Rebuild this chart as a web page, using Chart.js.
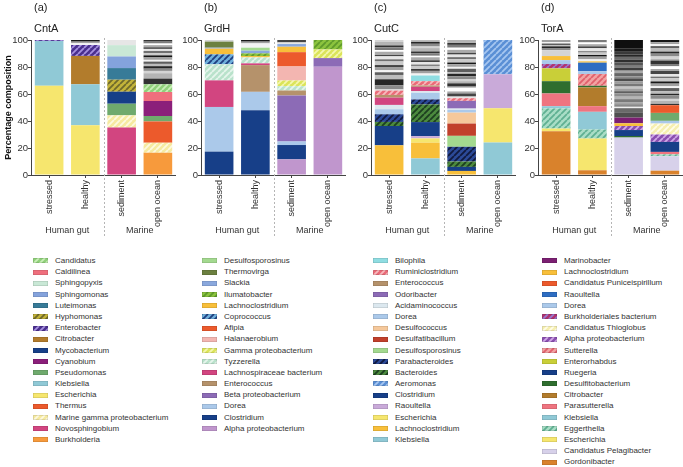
<!DOCTYPE html>
<html>
<head>
<meta charset="utf-8">
<script src="https://cdn.jsdelivr.net/npm/chart.js@4.4.1/dist/chart.umd.min.js"></script>
<style>
body{margin:0;width:683px;height:467px;background:#fff;position:relative;overflow:hidden;font-family:"Liberation Sans",Arial,sans-serif;}
canvas{position:absolute;top:0;}
.legend{position:absolute;top:255px;font-size:8px;color:#333;}
.legend div{height:11.2px;line-height:11.2px;white-space:nowrap;}
.sw{display:inline-block;width:15px;height:5px;margin-right:7px;vertical-align:middle;box-shadow:inset 0 0 0 0.5px rgba(0,0,0,0.18);background-size:6px 6px;}
</style>
</head>
<body>
<canvas id="cA" width="176" height="240" style="left:0px"></canvas>
<canvas id="cB" width="176" height="240" style="left:170px"></canvas>
<canvas id="cC" width="176" height="240" style="left:340px"></canvas>
<canvas id="cD" width="176" height="240" style="left:507px"></canvas>
<div class="legend" id="lA" style="left:33px"></div>
<div class="legend" id="lB" style="left:202px"></div>
<div class="legend" id="lC" style="left:373px"></div>
<div class="legend" id="lD" style="left:542px"></div>
<script>
// ===== DATA =====
const bars = ['stressed', 'healthy', 'sediment', 'open ocean'];
const groups = ['Human gut', 'Marine'];
const yTicks = [0, 20, 40, 60, 80, 100];

// (a) CntA - legend order, top to bottom
const cntaNames = ['Candidatus', 'Caldilinea', 'Sphingopyxis', 'Sphingomonas', 'Luteimonas', 'Hyphomonas',
  'Enterobacter', 'Citrobacter', 'Mycobacterium', 'Cyanobium', 'Pseudomonas', 'Klebsiella', 'Escherichia',
  'Thermus', 'Marine gamma proteobacterium', 'Novosphingobium', 'Burkholderia'];
const cntaStressed = [0, 0, 0, 0, 0, 0, 0.7, 0, 0, 0, 0, 33.1, 66.2, 0, 0, 0, 0];
const cntaHealthy  = [0, 0, 0, 0, 0, 0, 8.1, 21, 0, 0, 0, 30.4, 36.8, 0, 0, 0, 0];
const cntaSediment = [0, 0, 8.4, 8.6, 8.6, 8.9, 0, 0, 8.9, 0, 8.6, 0, 0, 0, 9.1, 35.1, 0];
const cntaOcean    = [5.7, 6.7, 0, 0, 0, 0, 0, 0, 0, 11.1, 4.0, 0, 0, 15.8, 7.4, 0, 16.5];
const cntaOther = [[], [1.3, 1.2, 1.2], [3.8],
  [4.2, 4.0, 1.7, 1.7, 1.8, 1.7, 1.7, 1.3, 1.8, 1.5, 1.6, 1.7, 1.5, 1.2, 1.6, 1.2, 1.4, 1.2]];

// (b) GrdH
const grdhNames = ['Desulfosporosinus', 'Thermovirga', 'Slackia', 'Ilumatobacter', 'Lachnoclostridium',
  'Coprococcus', 'Afipia', 'Halanaerobium', 'Gamma proteobacterium', 'Tyzzerella', 'Lachnospiraceae bacterium',
  'Enterococcus', 'Beta proteobacterium', 'Dorea', 'Clostridium', 'Alpha proteobacterium'];
const grdhStressed = [0, 4.5, 0.7, 0, 4.2, 7.4, 0, 0, 0, 11.9, 19.7, 0, 0, 33.1, 17.3, 0];
const grdhHealthy  = [2.2, 0, 2, 2, 1, 0, 0, 0, 0, 4.4, 1.3, 19.8, 0, 13.6, 48, 0];
const grdhSediment = [0, 0, 2, 0, 4, 0, 10.6, 10.4, 4.2, 3.2, 0, 3.7, 34, 2.7, 10.6, 11.6];
const grdhOcean    = [0, 0, 0, 7, 0, 0, 0, 0, 6.4, 0, 0, 0, 6.4, 0, 0, 80.2];
const grdhOther = [[1.2], [3.2, 1.3, 1.2], [1.2, 1.8], []];

// (c) CutC  ('' = unlabelled genus)
const cutcNames = ['Bilophila', 'Ruminiclostridium', 'Enterococcus', 'Odoribacter', '', 'Acidaminococcus',
  'Dorea', 'Desulfococcus', 'Desulfatibacillum', 'Desulfosporosinus', 'Parabacteroides', 'Bacteroides',
  'Aeromonas', 'Clostridium', 'Raoultella', 'Escherichia', 'Lachnoclostridium', 'Klebsiella'];
const cutcStressed = [0, 3.2, 2, 0, 5.4, 3.2, 3.7, 0, 0, 0, 5.7, 3, 0, 14.3, 0, 0, 22, 0];
const cutcHealthy  = [4.2, 3.2, 1, 0, 3.2, 1.2, 4.9, 0, 0, 0, 3.7, 13.1, 0, 10.4, 1.7, 3.2, 11.6, 12.3];
const cutcSediment = [0, 2, 0, 5.7, 0, 1, 2, 8.1, 9.1, 8.1, 10.9, 4, 0, 3, 0, 0, 3, 0];
const cutcOcean    = [0, 0, 0, 0, 0, 0, 0, 0, 0, 0, 0, 0, 25.4, 0, 25.2, 25.4, 0, 24];
const cutcOther = [
  [1.0, 3.0, 4.4, 3.2, 2.0, 1.5, 2.5, 1.2, 2.8, 1.6, 2.2, 1.0, 2.4, 1.3, 2.0, 1.4, 2.5, 1.5],
  [1.5, 2.0, 1.2, 2.4, 1.0, 1.8, 1.4, 2.2, 1.1, 1.9, 1.3, 2.5, 1.2, 2.0, 1.4, 1.4],
  [1.2, 2.3, 1.5, 2.8, 1.0, 2.2, 1.6, 1.3, 2.4, 1.8, 1.1, 2.6, 1.4, 2.0, 1.2, 2.5, 1.5, 1.9, 1.3, 2.2, 1.6, 2.1, 1.4, 2.2],
  []];

// (d) TorA
const toraNames = ['Marinobacter', 'Lachnoclostridium', 'Candidatus Puniceispirillum', 'Raoultella', '', 'Dorea',
  'Burkholderiales bacterium', 'Candidatus Thioglobus', 'Alpha proteobacterium', 'Sutterella', 'Enterorhabdus',
  'Ruegeria', 'Desulfitobacterium', 'Citrobacter', 'Parasutterella', 'Klebsiella', 'Eggerthella', 'Escherichia',
  'Candidatus Pelagibacter', 'Gordonibacter'];
const toraStressed = [0, 3, 0, 0, 0, 2.9, 3.2, 0, 0, 0, 9.5, 0, 9.1, 0, 9.4, 1.7, 14.9, 2, 0, 32.4];
const toraHealthy  = [0, 1, 0, 6.2, 0, 2.2, 0, 0, 0, 8.7, 0, 0, 1.2, 13.9, 4.2, 13.1, 6.7, 23.5, 0, 3.5];
const toraSediment = [4.2, 2, 0, 0, 0, 0, 0, 0, 3, 0, 0, 4.4, 1.2, 0, 0, 0, 0, 0, 27.7, 0];
const toraOcean    = [0, 0, 5.7, 0, 5.9, 2, 0, 8.1, 5.5, 0, 0, 7.4, 0, 0, 1.8, 0, 1.4, 0, 10.7, 3.2];
const toraOther = [
  [4.4, 1.2, 1.6, 0.8, 1.3, 1.0, 1.6],
  [1.5, 2.0, 1.2, 1.8, 1.0, 2.2, 1.4, 1.6, 1.3, 1.8],
  [3.5, 3.5, 1.0, 2.0, 1.5, 2.2, 1.8, 2.5, 1.6, 2.0, 1.4, 2.3, 1.7, 2.1, 1.5, 2.4, 1.8, 2.0, 1.6, 2.5, 1.9, 2.2, 1.7, 2.6, 2.1, 6.1],
  [1.0, 2.2, 1.5, 2.6, 1.2, 1.8, 2.4, 1.3, 2.0, 1.6, 2.5, 1.1, 1.9, 2.3, 1.4, 2.0, 1.7, 2.6, 1.2, 1.8, 2.1, 1.5, 2.4, 1.7, 1.5, 1.4, 1.6]];

// ===== STYLES (same order as names; [base, stripe] = hatched) =====
const cntaFill = [['#8fd07a', '#c9efb8'], '#ef6f7d', '#c9e8d6', '#84a3dc', '#377b98', ['#c4b43a', '#6f6a2c'],
  ['#4a2f8f', '#a690e0'], '#b27c2c', '#163f88', '#8b1f7a', '#6faa6d', '#90c9d6', '#f6e66e', '#ec5a2c',
  ['#f6eaa0', '#fdf9e0'], '#d24580', '#f79a3c'];
const grdhFill = ['#a3d98f', '#6c8040', '#8aa8dd', ['#8cc43e', '#5f9a2c'], '#f8bf3a', ['#6fb0dc', '#1f3f80'],
  '#ec5a2c', '#f3b6b1', ['#dbe45a', '#f4f7b0'], ['#b9e2cb', '#e6f5ec'], '#d24580', '#b5926b', '#8c6bb6',
  '#abc9ea', '#173f88', '#c096cd'];
const cutcFill = ['#8fdde2', ['#ea6b78', '#f7b9bd'], '#b5926b', '#8c6bb6', '#d24580', '#dce8ef', '#abc9ea',
  '#f5c89b', '#c1402b', '#a3d98f', ['#2c4a98', '#111a40'], ['#4c8a3e', '#1d3f20'], ['#5a8fd5', '#a6c6f0'],
  '#173f88', '#c9aad9', '#f6e66e', '#f8bf3a', '#90c9d6'];
const toraFill = ['#7b1f72', '#f8bf3a', '#ec5a2c', '#2e6dc2', '#6faa6d', '#abc9ea', ['#b0336f', '#9a7ad0'],
  ['#f6efb0', '#fffde8'], ['#8a4fb0', '#d0a8e8'], ['#f2a3a3', '#e0606c'], '#c9cf38', '#173f88', '#2f6e2f',
  '#b27c2c', '#ef7480', '#90c9d6', ['#a9ddc6', '#5fb092'], '#f6e66e', '#d7d1ea', '#d9822c'];

const grayShades = ['#d4d4d4', '#8a8a8a', '#262626', '#bcbcbc', '#5e5e5e', '#f3f3f3', '#a0a0a0', '#161616',
  '#cacaca', '#707070', '#e6e6e6', '#454545', '#aaaaaa', '#ffffff', '#7c7c7c', '#333333', '#b4b4b4'];
const darkShades = ['#4f4f4f', '#6a6a6a', '#eeeeee', '#8a8a8a', '#a5a5a5', '#7a7a7a', '#b5b5b5', '#8f8f8f',
  '#5f5f5f', '#a0a0a0', '#c4c4c4', '#777777', '#9a9a9a', '#4d4d4d', '#8a8a8a', '#666666', '#a8a8a8', '#3e3e3e',
  '#7d7d7d', '#555555', '#2f2f2f', '#6b6b6b', '#262626', '#3a3a3a', '#1a1a1a', '#0f0f0f'];

Chart.defaults.font.family = '"Liberation Sans", Arial, sans-serif';
Chart.defaults.color = '#333';

// HATCH TILE
function hatchTile(base, stripe) {
  const c = document.createElement('canvas');
  c.width = 6; c.height = 6;
  const g = c.getContext('2d');
  g.fillStyle = base;
  g.fillRect(0, 0, 6, 6);
  g.strokeStyle = stripe;
  g.lineWidth = 1.8;
  g.beginPath();
  for (let k = -6; k <= 6; k += 6) { g.moveTo(k, 6); g.lineTo(k + 6, 0); }
  g.stroke();
  return c;
}

function paint(f) {
  if (typeof f === 'string') return f;
  const t = hatchTile(f[0], f[1]);
  return t.getContext('2d').createPattern(t, 'repeat');
}

// LEGEND (html)
function buildLegend(id, names, fills) {
  const box = document.getElementById(id);
  names.forEach((n, k) => {
    if (!n) return;
    const row = document.createElement('div');
    const sw = document.createElement('span');
    sw.className = 'sw';
    const f = fills[k];
    if (typeof f === 'string') sw.style.background = f;
    else sw.style.backgroundImage = 'url(' + hatchTile(f[0], f[1]).toDataURL() + ')';
    row.appendChild(sw);
    row.appendChild(document.createTextNode(n));
    box.appendChild(row);
  });
}

// TITLES, DIVIDER, GROUP LABELS
const decor = {
  id: 'decor',
  afterDraw(chart, args, opts) {
    const { ctx, chartArea, scales: { x } } = chart;
    ctx.save();
    const xd = (x.getPixelForValue(1) + x.getPixelForValue(2)) / 2;
    ctx.strokeStyle = '#b5b5b5';
    ctx.lineWidth = 1;
    ctx.setLineDash([2, 2]);
    ctx.beginPath();
    ctx.moveTo(Math.round(xd) + 0.5, chartArea.top - 2);
    ctx.lineTo(Math.round(xd) + 0.5, 237);
    ctx.stroke();
    ctx.setLineDash([]);

    ctx.fillStyle = '#333';
    ctx.font = '9px "Liberation Sans", Arial';
    ctx.textAlign = 'center';
    ctx.textBaseline = 'middle';
    groups.forEach((g, i) => {
      const xm = (x.getPixelForValue(2 * i) + x.getPixelForValue(2 * i + 1)) / 2;
      ctx.fillText(g, xm, 231);
    });

    ctx.textAlign = 'left';
    ctx.fillStyle = '#222';
    ctx.font = '11px "Liberation Sans", Arial';
    ctx.fillText(opts.tag, chartArea.left + 3, 8);
    ctx.fillText(opts.gene, chartArea.left + 3, 29);
    ctx.restore();
  }
};

function drawPanel(canvasId, tag, gene, names, values, fills, other, darkBar, yTitle) {
  const datasets = [];
  for (let k = names.length - 1; k >= 0; k--) {
    datasets.push({
      label: names[k],
      data: values.map(v => v[k]),
      backgroundColor: paint(fills[k])
    });
  }
  const n = Math.max(...other.map(o => o.length));
  for (let i = 0; i < n; i++) {
    datasets.push({
      label: 'other',
      data: other.map(o => o[i] || 0),
      backgroundColor: other.map((o, b) => b === darkBar
        ? darkShades[i % darkShades.length]
        : grayShades[(i + b * 5) % grayShades.length])
    });
  }

  new Chart(document.getElementById(canvasId), {
    type: 'bar',
    data: { labels: bars, datasets: datasets },
    options: {
      responsive: false,
      animation: false,
      events: [],
      barPercentage: 0.79,
      categoryPercentage: 1,
      borderWidth: 0,
      layout: { padding: { top: 40, left: 0, right: 0, bottom: 0 } },
      plugins: {
        legend: { display: false },
        tooltip: { enabled: false },
        decor: { tag: tag, gene: gene }
      },
      scales: {
        x: {
          stacked: true,
          afterFit: s => { s.height = 65; },
          grid: { display: true, drawOnChartArea: false, offset: false, tickLength: 3, color: '#444' },
          border: { display: true, color: '#444' },
          ticks: { minRotation: 90, maxRotation: 90, autoSkip: false, padding: 2, color: '#333', font: { size: 9 } }
        },
        y: {
          stacked: true,
          min: yTicks[0],
          max: yTicks[yTicks.length - 1],
          afterFit: s => { s.width = 31; },
          grid: { display: true, drawOnChartArea: false, tickLength: 3, color: '#444' },
          border: { display: true, color: '#444' },
          ticks: { stepSize: yTicks[1] - yTicks[0], padding: 0, color: '#333', font: { size: 9.5 } },
          title: {
            display: !!yTitle, text: yTitle || '', color: '#111',
            font: { size: 9, weight: 'bold' }, padding: { top: 3, bottom: 0 }
          }
        }
      }
    },
    plugins: [decor]
  });
}

// INIT
drawPanel('cA', '(a)', 'CntA', cntaNames, [cntaStressed, cntaHealthy, cntaSediment, cntaOcean], cntaFill, cntaOther, -1, 'Percentage composition');
drawPanel('cB', '(b)', 'GrdH', grdhNames, [grdhStressed, grdhHealthy, grdhSediment, grdhOcean], grdhFill, grdhOther, -1, '');
drawPanel('cC', '(c)', 'CutC', cutcNames, [cutcStressed, cutcHealthy, cutcSediment, cutcOcean], cutcFill, cutcOther, -1, '');
drawPanel('cD', '(d)', 'TorA', toraNames, [toraStressed, toraHealthy, toraSediment, toraOcean], toraFill, toraOther, 2, '');

buildLegend('lA', cntaNames, cntaFill);
buildLegend('lB', grdhNames, grdhFill);
buildLegend('lC', cutcNames, cutcFill);
buildLegend('lD', toraNames, toraFill);
</script>
</body>
</html>
